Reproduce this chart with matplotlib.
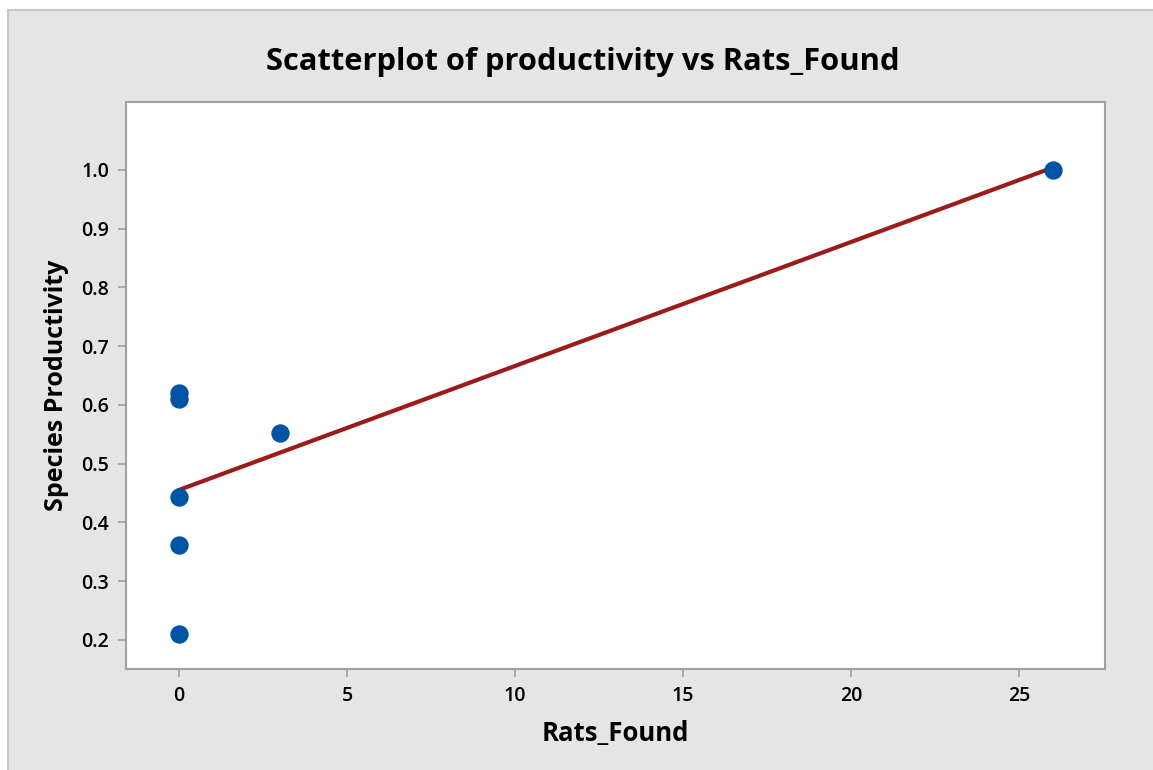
import numpy as np
import matplotlib
matplotlib.use("Agg")
import matplotlib.pyplot as plt
from matplotlib.patches import Rectangle

rats_found = [0, 0, 0, 0, 0, 3, 26]
productivity = [0.62, 0.61, 0.444, 0.362, 0.211, 0.553, 1.0]
x_ticks = [0, 5, 10, 15, 20, 25]
y_ticks = [0.2, 0.3, 0.4, 0.5, 0.6, 0.7, 0.8, 0.9, 1.0]

plt.rcParams['font.family'] = ['Open Sans', 'DejaVu Sans']

W, H = 1153, 770
fig = plt.figure(figsize=(W / 100, H / 100), dpi=100, facecolor='white')
fig.patches.append(Rectangle((8 / W, -0.05), 1.1, 1.05 - 10 / H, transform=fig.transFigure,
                             facecolor='#e5e5e5', edgecolor='#c8c8c8', linewidth=1.5, zorder=-10))

left, right, top, bottom = 126, 1105, 102, 669
ax = fig.add_axes([left / W, 1 - bottom / H, (right - left) / W, (bottom - top) / H])
ax.set_facecolor('white')

ax.scatter(rats_found, productivity, s=175, color='#0054a6', zorder=3, linewidths=0)
slope, intercept = np.polyfit(rats_found, productivity, 1)
xs = np.array([min(rats_found), max(rats_found)])
ax.plot(xs, intercept + slope * xs, color='#9b1a1a', linewidth=3, zorder=2)

ax.set_xlim(-1.58, 27.56)
ax.set_ylim(0.1506, 1.1157)
ax.set_xticks(x_ticks)
ax.set_xticklabels([str(t) for t in x_ticks])
ax.set_yticks(y_ticks)
ax.set_yticklabels([f"{t:.1f}" for t in y_ticks])

for s in ax.spines.values():
    s.set_color('#a0a0a0')
    s.set_linewidth(1.5)
ax.tick_params(direction='out', length=6, width=1.2, color='#a0a0a0',
               labelsize=14, labelcolor='black', pad=6)
for lab in ax.get_xticklabels() + ax.get_yticklabels():
    lab.set_fontweight('semibold')

ax.set_xlabel('Rats_Found', fontsize=18.5, fontweight='bold', labelpad=10)
ax.set_ylabel('Species Productivity', fontsize=18, fontweight='bold', labelpad=9)
fig.text(583 / W, 1 - 62 / H, 'Scatterplot of productivity vs Rats_Found', ha='center', va='center',
         fontsize=22.2, fontweight='bold')

fig.savefig('out.png', dpi=100, facecolor=fig.get_facecolor())
